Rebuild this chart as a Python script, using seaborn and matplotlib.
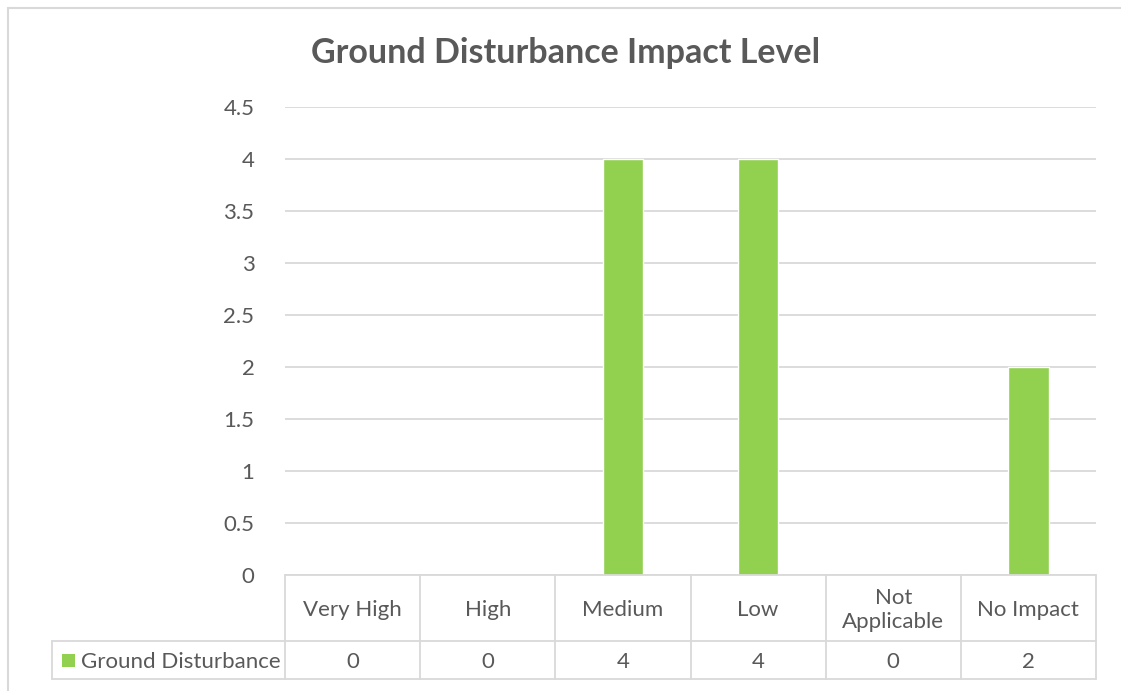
import matplotlib
matplotlib.use("Agg")
import matplotlib.pyplot as plt
import seaborn as sns
import pandas as pd
from matplotlib.lines import Line2D
from matplotlib.patches import Rectangle
import matplotlib.transforms as mtransforms

categories = ["Very High", "High", "Medium", "Low", "Not\nApplicable", "No Impact"]
values = [0, 0, 4, 4, 0, 2]
series_name = "Ground Disturbance"
y_ticks = [0, 0.5, 1, 1.5, 2, 2.5, 3, 3.5, 4, 4.5]
title = "Ground Disturbance Impact Level"

BAR = "#92D050"
GRID = "#D9D9D9"
TEXT = "#595959"
FS = 16

sns.set_theme(style="white")
plt.rcParams["font.family"] = ["Lato", "DejaVu Sans"]

W, H = 1121, 691
fig = plt.figure(figsize=(W / 100, H / 100), dpi=100)
fig.patch.set_facecolor("white")

# plot area in pixel units
left, right, top, bottom = 285, 1096, 107, 575
ax = fig.add_axes([left / W, 1 - bottom / H, (right - left) / W, (bottom - top) / H])

df = pd.DataFrame({"category": categories, "value": values})
sns.barplot(data=df, x="category", y="value", color=BAR, width=0.3,
            saturation=1, ax=ax)

ax.set_xlim(-0.5, len(categories) - 0.5)
ax.set_ylim(0, 4.5)
ax.set_yticks(y_ticks)
ax.set_yticklabels([f"{t:g}" for t in y_ticks], fontsize=FS, color=TEXT)
ax.tick_params(axis="y", length=0, pad=22)
ax.set_xticks([])
ax.set_xlabel("")
ax.set_ylabel("")
for s in ax.spines.values():
    s.set_visible(False)
ax.set_axisbelow(True)
ax.yaxis.grid(True, color=GRID, linewidth=1.3)
ax.xaxis.grid(False)

# data table under the plot
ax_w = right - left
ax_h = bottom - top
row1 = -66 / ax_h
row2 = -104 / ax_h
legend_left = (52 - left) / ax_w
trans_x = mtransforms.blended_transform_factory(ax.transData, ax.transAxes)
kw = dict(color=GRID, linewidth=1.3, clip_on=False)

# horizontal rules
ax.add_line(Line2D([0, 1], [0, 0], transform=ax.transAxes, **kw))
ax.add_line(Line2D([legend_left, 1], [row1, row1], transform=ax.transAxes, **kw))
ax.add_line(Line2D([legend_left, 1], [row2, row2], transform=ax.transAxes, **kw))
ax.add_line(Line2D([legend_left, legend_left], [row1, row2], transform=ax.transAxes, **kw))
# vertical rules
for i in range(len(categories) + 1):
    xb = i - 0.5
    ax.add_line(Line2D([xb, xb], [0, row2], transform=trans_x, **kw))

nudge = -2 / ax_h
for i, (cat, v) in enumerate(zip(categories, values)):
    ax.text(i, row1 / 2 + nudge, cat, transform=trans_x, ha="center", va="center",
            fontsize=FS, color=TEXT, linespacing=1.3)
    ax.text(i, (row1 + row2) / 2 + nudge, f"{v:g}", transform=trans_x, ha="center",
            va="center", fontsize=FS, color=TEXT)

# legend key in table
mid = (row1 + row2) / 2
sq_w = 13 / ax_w
sq_h = 13 / ax_h
ax.add_patch(Rectangle(((62 - left) / ax_w, mid - sq_h / 2), sq_w, sq_h,
                       transform=ax.transAxes, facecolor=BAR, edgecolor="none",
                       clip_on=False))
ax.text((81 - left) / ax_w, mid + nudge, series_name, transform=ax.transAxes,
        ha="left", va="center", fontsize=FS, color=TEXT)

fig.text(566 / W, 1 - 53 / H, title, ha="center", va="center", fontsize=24.5,
         fontweight="bold", color=TEXT)

# chart frame
fig.add_artist(Line2D([8 / W, 1], [1 - 8 / H, 1 - 8 / H], transform=fig.transFigure,
                      color=GRID, linewidth=1.5))
fig.add_artist(Line2D([8 / W, 8 / W], [0, 1 - 8 / H], transform=fig.transFigure,
                      color=GRID, linewidth=1.5))

fig.savefig("out.png", dpi=100, facecolor="white")
